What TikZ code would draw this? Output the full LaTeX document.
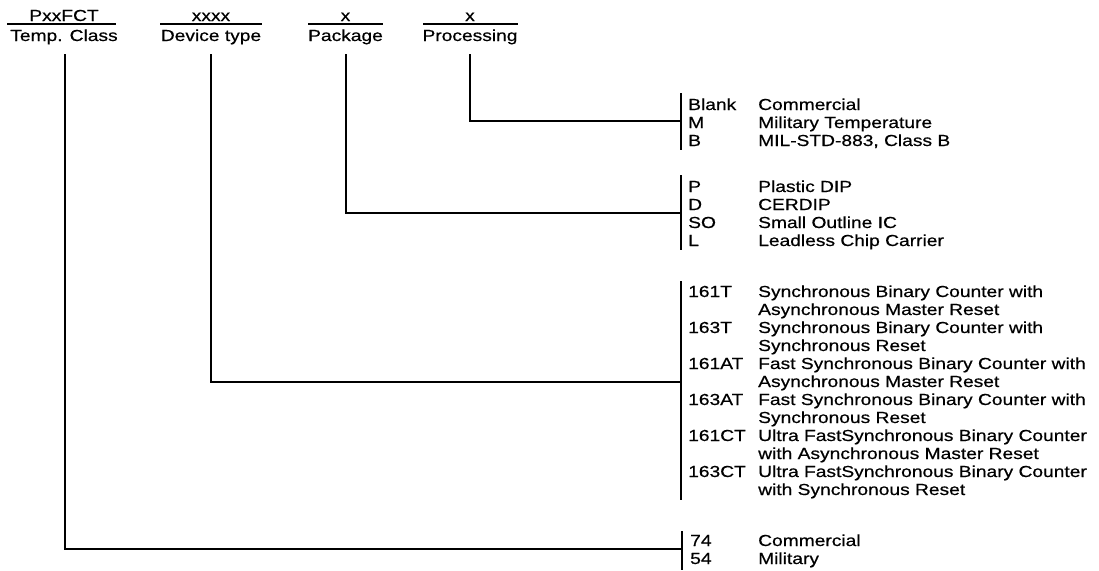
\documentclass[tikz,border=0pt]{standalone}
\usepackage{fontspec}
\setmainfont{Liberation Sans}[FakeStretch=1.2,FakeBold=0.5]
\begin{document}
\begin{tikzpicture}[x=1pt,y=-1pt,
  lbl/.style={font=\fontsize{16}{18}\selectfont, inner sep=0pt, anchor=base west},
  hd/.style={font=\fontsize{16}{18}\selectfont, inner sep=0pt, anchor=base},
  ln/.style={line width=1.3pt}]
\useasboundingbox (0,0) rectangle (1099,570);
\fill[white] (0,0) rectangle (1099,570);

% headers
\node[hd] (t1) at (64,21) {PxxFCT};
\node[hd] (b1) at (64,41) {Temp. Class};
\node[hd] (t2) at (211,21) {xxxx};
\node[hd] (b2) at (211,41) {Device type};
\node[hd] (t3) at (345.5,21) {x};
\node[hd] (b3) at (345.5,41) {Package};
\node[hd] (t4) at (470,21) {x};
\node[hd] (b4) at (470,41) {Processing};
\draw[ln] (7,24) -- (116,24);
\draw[ln] (160,24) -- (262,24);
\draw[ln] (308,24) -- (383,24);
\draw[ln] (423,24) -- (518,24);

% stems
\coordinate (s1) at (65,54);
\coordinate (s2) at (211,54);
\coordinate (s3) at (346,54);
\coordinate (s4) at (470,54);

% brackets and junctions
\coordinate (j4) at (681,121);
\coordinate (j3) at (681,213);
\coordinate (j2) at (681,382);
\coordinate (j1) at (682,549);
\draw[ln] (681,93) -- (681,150);
\draw[ln] (681,175) -- (681,250);
\draw[ln] (681,281) -- (681,500);
\draw[ln] (682,531) -- (682,570);

\draw[ln] (s4) |- (j4);
\draw[ln] (s3) |- (j3);
\draw[ln] (s2) |- (j2);
\draw[ln] (s1) |- (j1);

% group processing
\node[lbl] (pc1) at (688,110) {Blank}; \node[lbl] (pd1) at (758,110) {Commercial};
\node[lbl] (pc2) at (688,128) {M};     \node[lbl] (pd2) at (758,128) {Military Temperature};
\node[lbl] (pc3) at (688,146) {B};     \node[lbl] (pd3) at (758,146) {MIL-STD-883, Class B};

% group package
\node[lbl] (kc1) at (688,192) {P};  \node[lbl] (kd1) at (758,192) {Plastic DIP};
\node[lbl] (kc2) at (688,210) {D};  \node[lbl] (kd2) at (758,210) {CERDIP};
\node[lbl] (kc3) at (688,228) {SO}; \node[lbl] (kd3) at (758,228) {Small Outline IC};
\node[lbl] (kc4) at (688,246) {L};  \node[lbl] (kd4) at (758,246) {Leadless Chip Carrier};

% group device
\node[lbl] (dc1) at (688,297) {161T};  \node[lbl] (dd1) at (758,297) {Synchronous Binary Counter with};
\node[lbl] (de1) at (758,315) {Asynchronous Master Reset};
\node[lbl] (dc2) at (688,333) {163T};  \node[lbl] (dd2) at (758,333) {Synchronous Binary Counter with};
\node[lbl] (de2) at (758,351) {Synchronous Reset};
\node[lbl] (dc3) at (688,369) {161AT}; \node[lbl] (dd3) at (758,369) {Fast Synchronous Binary Counter with};
\node[lbl] (de3) at (758,387) {Asynchronous Master Reset};
\node[lbl] (dc4) at (688,405) {163AT}; \node[lbl] (dd4) at (758,405) {Fast Synchronous Binary Counter with};
\node[lbl] (de4) at (758,423) {Synchronous Reset};
\node[lbl] (dc5) at (688,441) {161CT}; \node[lbl] (dd5) at (758,441) {Ultra FastSynchronous Binary Counter};
\node[lbl] (de5) at (758,459) {with Asynchronous Master Reset};
\node[lbl] (dc6) at (688,477) {163CT}; \node[lbl] (dd6) at (758,477) {Ultra FastSynchronous Binary Counter};
\node[lbl] (de6) at (758,495) {with Synchronous Reset};

% group temp
\node[lbl] (tc1) at (690,546) {74}; \node[lbl] (td1) at (758,546) {Commercial};
\node[lbl] (tc2) at (690,564) {54}; \node[lbl] (td2) at (758,564) {Military};
\end{tikzpicture}
\end{document}
